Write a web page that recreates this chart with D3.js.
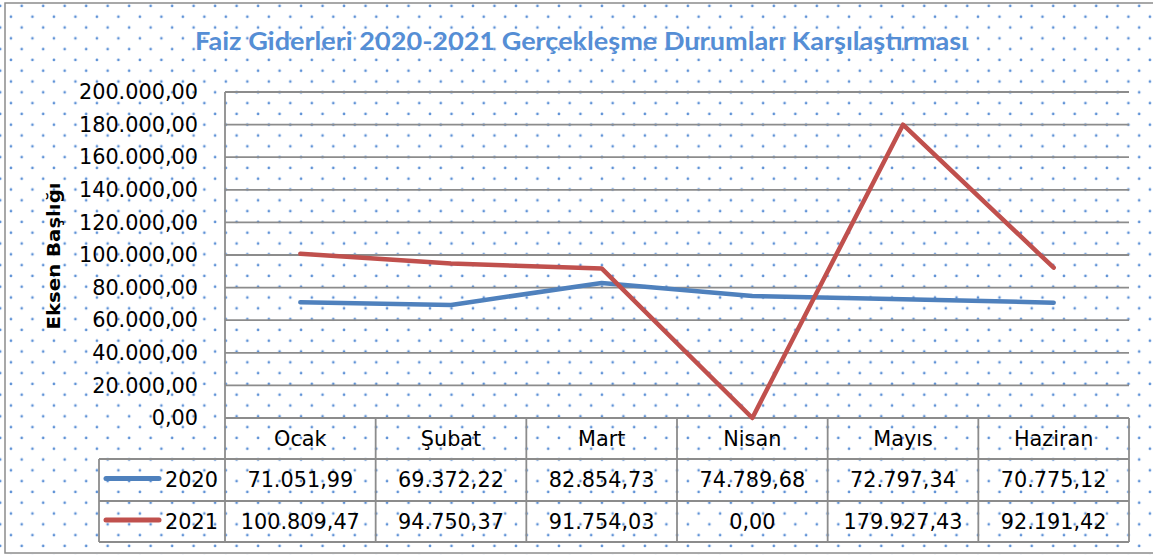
<!DOCTYPE html>
<html>
<head>
<meta charset="utf-8">
<script src="https://cdn.jsdelivr.net/npm/d3@7"></script>
<style>
  html, body { margin: 0; padding: 0; background: #fff; }
  svg { display: block; }
</style>
</head>
<body>
<svg id="chart" width="1153" height="555"></svg>
<script>
// ---- data ----
const title = "Faiz Giderleri 2020-2021 Gerçekleşme Durumları Karşılaştırması";
const yAxisTitle = "Eksen Başlığı";
const categories = ["Ocak", "Şubat", "Mart", "Nisan", "Mayıs", "Haziran"];
const seriesNames = ["2020", "2021"];
const values2020 = [71051.99, 69372.22, 82854.73, 74789.68, 72797.34, 70775.12];
const values2021 = [100809.47, 94750.37, 91754.03, 0, 179927.43, 92191.42];
const yTicks = [0, 20000, 40000, 60000, 80000, 100000, 120000, 140000, 160000, 180000, 200000];
const seriesColors = ["#4F81BD", "#C0504D"];

(function () {
const trLocale = d3.formatLocale({ decimal: ",", thousands: ".", grouping: [3], currency: ["", ""] });
const fmt = trLocale.format(",.2f");

const svg = d3.select("#chart");
const W = 1153, H = 555;

// background dot pattern
const defs = svg.append("defs");
const pat = defs.append("pattern")
  .attr("id", "dots")
  .attr("patternUnits", "userSpaceOnUse")
  .attr("x", 21.7).attr("y", 6)
  .attr("width", 21.49).attr("height", 21.6);
[[0, 0], [21.49, 0], [0, 21.6], [21.49, 21.6], [10.745, 10.8]].forEach(p => {
  pat.append("circle").attr("cx", p[0]).attr("cy", p[1]).attr("r", 1.35).attr("fill", "#5f92d6");
});

svg.append("rect").attr("x", 0).attr("y", 0).attr("width", W).attr("height", H).attr("fill", "#fff");
svg.append("rect").attr("x", 0).attr("y", 0).attr("width", W).attr("height", H).attr("fill", "url(#dots)");

// outer frame
svg.append("rect")
  .attr("x", 5).attr("y", 3).attr("width", 1160).attr("height", 550)
  .attr("fill", "none").attr("stroke", "#8c8c8c").attr("stroke-width", 1.5);

// layout
const pLeft = 225, pRight = 1129, pTop = 92, pBottom = 418;
const legendLeft = 99;
const rowY = [418, 459, 501, 542];

const x = d3.scaleBand().domain(categories).range([pLeft, pRight]).paddingInner(0).paddingOuter(0);
const y = d3.scaleLinear().domain([0, 200000]).range([pBottom, pTop]);

const gridColor = "#8c8c8c";
const fs = "20.8px";

// gridlines
svg.append("g").selectAll("line").data(yTicks).join("line")
  .attr("x1", pLeft).attr("x2", pRight)
  .attr("y1", d => y(d)).attr("y2", d => y(d))
  .attr("stroke", gridColor).attr("stroke-width", 1.8);

// y axis
const yAxis = d3.axisLeft(y).tickValues(yTicks).tickSize(0).tickPadding(27).tickFormat(d => fmt(d));
const gy = svg.append("g").attr("transform", `translate(${pLeft},0)`).call(yAxis);
gy.select(".domain").remove();
gy.selectAll("text")
  .attr("font-family", "DejaVu Sans").attr("font-size", fs).attr("fill", "#000");

// axis vertical line (extends through category row)
svg.append("line").attr("x1", pLeft).attr("x2", pLeft).attr("y1", pTop).attr("y2", rowY[1])
  .attr("stroke", gridColor).attr("stroke-width", 1.8);

// y axis title
svg.append("text")
  .attr("transform", "translate(60,256) rotate(-90)")
  .attr("text-anchor", "middle")
  .attr("font-family", "DejaVu Sans").attr("font-weight", "bold").attr("font-size", "18px")
  .attr("textLength", 147).attr("lengthAdjust", "spacingAndGlyphs")
  .text(yAxisTitle);

// title
svg.append("text")
  .attr("x", 581.5).attr("y", 50)
  .attr("text-anchor", "middle")
  .attr("font-family", "Lato").attr("font-weight", "bold").attr("font-size", "25px")
  .attr("fill", "#558ED5")
  .attr("textLength", 773).attr("lengthAdjust", "spacingAndGlyphs")
  .text(title);

// data table
const tbl = svg.append("g").attr("stroke", gridColor).attr("stroke-width", 1.8);
tbl.append("line").attr("x1", pLeft).attr("x2", pRight).attr("y1", rowY[0]).attr("y2", rowY[0]);
[rowY[1], rowY[2], rowY[3]].forEach(yy => {
  tbl.append("line").attr("x1", legendLeft).attr("x2", pRight).attr("y1", yy).attr("y2", yy);
});
categories.forEach((c, i) => {
  if (i === 0) return;
  tbl.append("line").attr("x1", x(c)).attr("x2", x(c)).attr("y1", rowY[0]).attr("y2", rowY[3]);
});
tbl.append("line").attr("x1", pRight).attr("x2", pRight).attr("y1", rowY[0]).attr("y2", rowY[3]);
tbl.append("line").attr("x1", pLeft).attr("x2", pLeft).attr("y1", rowY[1]).attr("y2", rowY[3]);
tbl.append("line").attr("x1", legendLeft).attr("x2", legendLeft).attr("y1", rowY[1]).attr("y2", rowY[3]);

// category labels
svg.append("g").selectAll("text").data(categories).join("text")
  .attr("x", d => x(d) + x.bandwidth() / 2)
  .attr("y", (rowY[0] + rowY[1]) / 2)
  .attr("dy", "0.36em")
  .attr("text-anchor", "middle")
  .attr("font-family", "DejaVu Sans").attr("font-size", fs)
  .text(d => d);

// table values + legend keys
const allSeries = [values2020, values2021];
allSeries.forEach((vals, si) => {
  const cy = (rowY[si + 1] + rowY[si + 2]) / 2;
  svg.append("g").selectAll("text").data(vals).join("text")
    .attr("x", (d, i) => x(categories[i]) + x.bandwidth() / 2)
    .attr("y", cy).attr("dy", "0.36em")
    .attr("text-anchor", "middle")
    .attr("font-family", "DejaVu Sans").attr("font-size", fs)
    .text(d => fmt(d));
  svg.append("line")
    .attr("x1", 106).attr("x2", 159).attr("y1", cy - 1.5).attr("y2", cy - 1.5)
    .attr("stroke", seriesColors[si]).attr("stroke-width", 5).attr("stroke-linecap", "round");
  svg.append("text")
    .attr("x", 218).attr("y", cy).attr("dy", "0.36em")
    .attr("text-anchor", "end")
    .attr("font-family", "DejaVu Sans").attr("font-size", fs)
    .text(seriesNames[si]);
});

// lines
const line = d3.line()
  .x((d, i) => x(categories[i]) + x.bandwidth() / 2)
  .y(d => y(d));
allSeries.forEach((vals, si) => {
  svg.append("path")
    .datum(vals)
    .attr("d", line)
    .attr("fill", "none")
    .attr("stroke", seriesColors[si])
    .attr("stroke-width", 4.5)
    .attr("stroke-linejoin", "round")
    .attr("stroke-linecap", "round");
});
})();
</script>
</body>
</html>
